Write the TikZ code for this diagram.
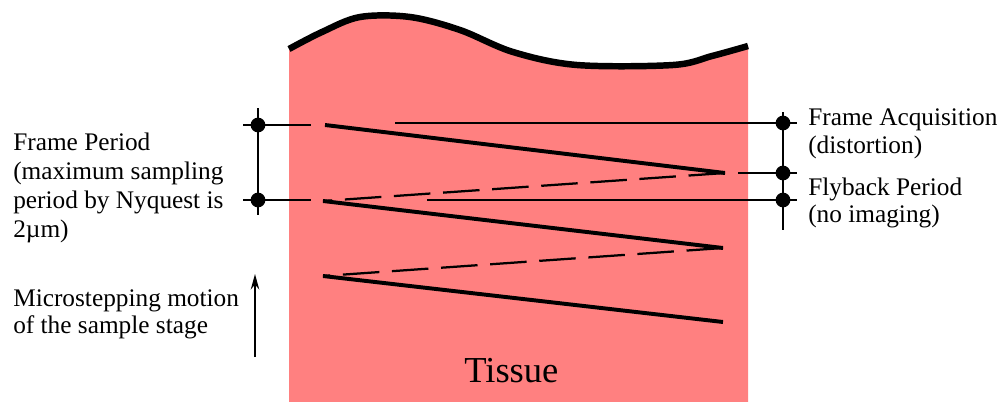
\documentclass[tikz,border=0pt]{standalone}
\usepackage{fontspec}
\setmainfont{Liberation Serif}
\usepackage{tikz}
\usetikzlibrary{arrows.meta, positioning}
\definecolor{tspink}{HTML}{FF8080}
\definecolor{tsblack}{HTML}{000000}

\begin{document}
\begin{tikzpicture}[
      x=0.025cm, y=-0.025cm,
      lbl/.style={inner sep=0pt, anchor=base west, align=left, text=tsblack,
                  font=\fontsize{18}{20.6}\selectfont},
      dot/.style={circle, fill=tsblack, inner sep=0pt, minimum size=10.5pt},
      thin/.style={tsblack, line width=1.4pt},
      scan/.style={tsblack, line width=2.8pt},
      flyback/.style={tsblack, line width=1.6pt, dash pattern=on 26pt off 9pt},
      surface/.style={tsblack, line width=4.6pt},
      ar/.style={-{Stealth[length=11pt,width=6pt]}, tsblack, line width=1.3pt},
    ]
    \useasboundingbox (0,0) rectangle (1002,402);

    % ---------------- tissue block
    \fill[tspink] (289,402) -- plot[smooth, tension=0.55] coordinates
      {(289,49) (322,32) (360,17) (410,17) (460,30) (513,52) (577,65)
       (673,65) (712,56) (748,46)} -- (748,402) -- cycle;
    \draw[surface] plot[smooth, tension=0.55] coordinates
      {(289,49) (322,32) (360,17) (410,17) (460,30) (513,52) (577,65)
       (673,65) (712,56) (748,46)};
    \node[inner sep=0pt, anchor=base west, font=\fontsize{26}{30}\selectfont]
      (tissue) at (464,382) {Tissue};

    % ---------------- scan path
    \coordinate (z1) at (325,125);
    \coordinate (z2) at (725,173);
    \coordinate (z3) at (323,201);
    \coordinate (z4) at (723,248);
    \coordinate (z5) at (323,276);
    \coordinate (z6) at (723,322);
    \draw[scan] (z1) -- (z2);
    \draw[flyback] (z2) -- (z3);
    \draw[scan] (z3) -- (z4);
    \draw[flyback] (z4) -- (z5);
    \draw[scan] (z5) -- (z6);

    % ---------------- left bracket
    \coordinate (lbtop) at (258,108);
    \coordinate (lbbot) at (258,215);
    \draw[thin] (lbtop) -- (lbbot);
    \node[dot] (ld1) at (258,125) {};
    \node[dot] (ld2) at (258,200) {};
    \coordinate (lt1a) at (243,125);
    \coordinate (lt1b) at (311,125);
    \coordinate (lt2a) at (243,200);
    \coordinate (lt2b) at (311,200);
    \draw[thin] (lt1a) -- (lt1b);
    \draw[thin] (lt2a) -- (lt2b);

    % ---------------- right bracket
    \coordinate (rbtop) at (783,112);
    \coordinate (rbbot) at (783,230);
    \draw[thin] (rbtop) -- (rbbot);
    \node[dot] (rd1) at (783,123) {};
    \node[dot] (rd2) at (783,173) {};
    \node[dot] (rd3) at (783,200) {};
    \coordinate (rt1a) at (395,123);
    \coordinate (rt1b) at (797,123);
    \coordinate (rt2a) at (738,173);
    \coordinate (rt2b) at (797,173);
    \coordinate (rt3a) at (427,200);
    \coordinate (rt3b) at (797,200);
    \draw[thin] (rt1a) -- (rt1b);
    \draw[thin] (rt2a) -- (rt2b);
    \draw[thin] (rt3a) -- (rt3b);

    % ---------------- stage motion
    \coordinate (mvbot) at (255,357);
    \coordinate (mvtop) at (255,274);
    \draw[ar] (mvbot) -- (mvtop);

    % ---------------- labels (anchored at the last baseline)
    \node[lbl] (period) at (13,237)
      {Frame Period\\(maximum sampling\\period by Nyquest is\\2µm)};
    \node[lbl, font=\fontsize{18}{19}\selectfont] (motion) at (13,333)
      {Microstepping motion\\of the sample stage};
    \node[lbl, font=\fontsize{18}{19.8}\selectfont] (acq) at (808,153)
      {Frame Acquisition\\(distortion)};
    \node[lbl, font=\fontsize{18}{19.2}\selectfont] (fly) at (808,222)
      {Flyback Period\\(no imaging)};
  \end{tikzpicture}
\end{document}
